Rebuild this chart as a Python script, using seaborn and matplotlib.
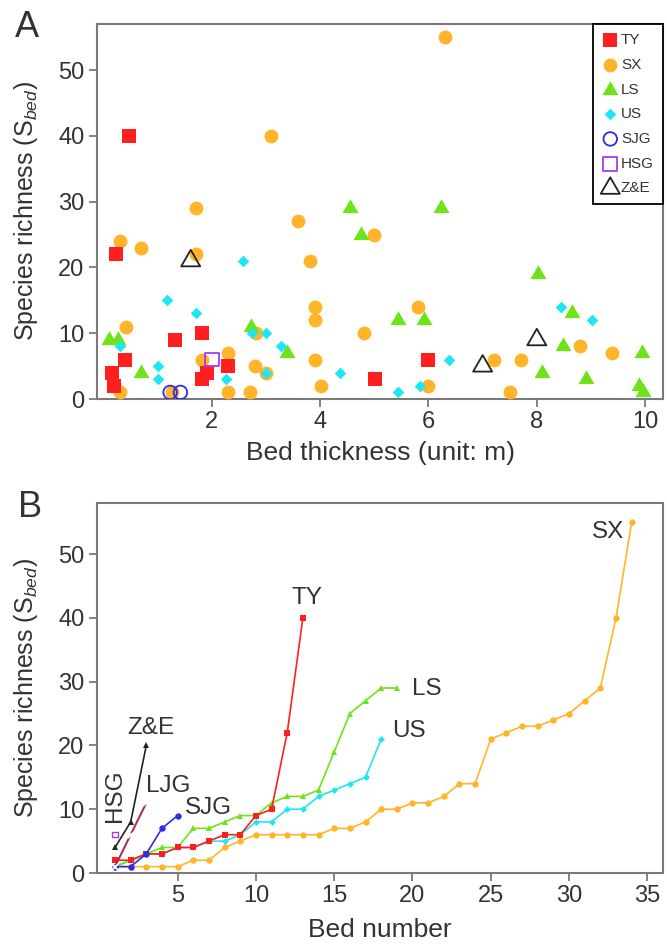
import matplotlib
matplotlib.use("Agg")
import matplotlib.pyplot as plt
from matplotlib.path import Path
import seaborn as sns

# ---- Panel A: bed thickness (m) vs. species richness of each bed ----
ty_thick = [0.47, 0.23, 0.40, 0.15, 0.20, 1.32, 1.81, 1.91, 1.81, 2.30, 5.01, 6.00]
ty_rich = [40, 22, 6, 4, 2, 9, 10, 4, 3, 5, 3, 6]

sx_thick = [3.10, 1.70, 0.30, 0.70, 1.70, 0.41, 0.30, 1.81, 2.30, 2.30, 2.80, 2.71,
            3.00, 1.26, 2.82, 6.31, 3.60, 3.81, 5.00, 3.90, 3.90, 4.81, 5.81, 3.90,
            4.01, 6.00, 7.21, 7.70, 7.50, 8.80, 9.39]
sx_rich = [40, 29, 24, 23, 22, 11, 1, 6, 7, 1, 5, 1,
           4, 1, 10, 55, 27, 21, 25, 14, 12, 10, 14, 6,
           2, 2, 6, 6, 1, 8, 7]

ls_thick = [0.10, 0.27, 0.69, 2.73, 3.38, 4.56, 4.76, 6.24, 5.44, 5.92, 8.03, 8.65,
            8.49, 8.10, 8.90, 9.95, 9.88, 9.96]
ls_rich = [9, 9, 4, 11, 7, 29, 25, 29, 12, 12, 19, 13, 8, 4, 3, 7, 2, 1]

us_thick = [0.31, 1.18, 1.70, 1.01, 1.01, 2.58, 2.26, 2.75, 3.00, 3.00, 3.27, 4.36,
            5.43, 5.85, 6.37, 8.44, 9.02]
us_rich = [8, 15, 13, 5, 3, 21, 3, 10, 10, 4, 8, 4, 1, 2, 6, 14, 12]

sjg_thick = [1.23, 1.42]
sjg_rich = [1, 1]

hsg_thick = [2.00]
hsg_rich = [6]

ze_thick = [1.61, 7.00, 8.00]
ze_rich = [21, 5, 9]

# ---- Panel B: species richness of beds ranked in ascending order ----
ty_bed = [2, 2, 3, 3, 4, 4, 5, 6, 6, 9, 10, 22, 40]
sx_bed = [1, 1, 1, 1, 1, 2, 2, 4, 5, 6, 6, 6, 6, 6, 7, 7, 8, 10, 10, 11, 11, 12,
          14, 14, 21, 22, 23, 23, 24, 25, 27, 29, 40, 55]
ls_bed = [1, 2, 3, 4, 4, 7, 7, 8, 9, 9, 11, 12, 12, 13, 19, 25, 27, 29, 29]
us_bed = [1, 2, 3, 3, 4, 4, 5, 5, 6, 8, 8, 10, 10, 12, 13, 14, 15, 21]
sjg_bed = [1, 1, 3, 7, 9]
ljg_bed = [1, 6, 11]
ze_bed = [4, 8, 20]
hsg_bed = [6]

C_TY = "#ff1f1f"
C_SX = "#ffb42a"
C_LS = "#6fe31a"
C_US = "#1fe6f4"
C_SJG = "#2d2de6"
C_HSG = "#a23bf2"
C_ZE = "#222222"
C_LJG = "#a3294d"
SPINE = "#7a7a7a"
TXT = "#333333"

sns.set_theme(style="ticks")
plt.rcParams["font.family"] = ["Liberation Sans", "DejaVu Sans"]
plt.rcParams["mathtext.fontset"] = "custom"
plt.rcParams["mathtext.rm"] = "Liberation Sans"
plt.rcParams["mathtext.it"] = "Liberation Sans:italic"

# equilateral triangle centred on its centroid
tri = Path([(-1.0, -0.57735), (1.0, -0.57735), (0.0, 1.1547), (-1.0, -0.57735)],
           [Path.MOVETO, Path.LINETO, Path.LINETO, Path.CLOSEPOLY])

fig = plt.figure(figsize=(6.67, 9.49), dpi=100)
W, H = 667.0, 949.0
axA = fig.add_axes([97 / W, 1 - 399 / H, 566 / W, 375 / H])
axB = fig.add_axes([97 / W, 1 - 873 / H, 566 / W, 370 / H])

# ---------------- Panel A ----------------
sns.scatterplot(x=sx_thick, y=sx_rich, ax=axA, color=C_SX, marker="o", s=100,
                linewidth=0, label="SX", zorder=3)
sns.scatterplot(x=ty_thick, y=ty_rich, ax=axA, color=C_TY, marker="s", s=92,
                linewidth=0, label="TY", zorder=4)
sns.scatterplot(x=ls_thick, y=ls_rich, ax=axA, color=C_LS, marker=tri, s=177,
                linewidth=0, label="LS", zorder=5)
sns.scatterplot(x=us_thick, y=us_rich, ax=axA, color=C_US, marker="D", s=35,
                linewidth=0, label="US", zorder=6)
sns.scatterplot(x=sjg_thick, y=sjg_rich, ax=axA, marker="o", s=95,
                facecolor="none", edgecolor=C_SJG, linewidth=1.3, label="SJG", zorder=7)
sns.scatterplot(x=hsg_thick, y=hsg_rich, ax=axA, marker="s", s=100,
                facecolor="none", edgecolor=C_HSG, linewidth=1.3, label="HSG", zorder=7)
sns.scatterplot(x=ze_thick, y=ze_rich, ax=axA, marker=tri, s=250,
                facecolor="none", edgecolor=C_ZE, linewidth=1.3, label="Z&E", zorder=7)

handles, labels = axA.get_legend_handles_labels()
order = ["TY", "SX", "LS", "US", "SJG", "HSG", "Z&E"]
hmap = dict(zip(labels, handles))
leg = axA.legend([hmap[k] for k in order], order, loc="upper right",
                 bbox_to_anchor=(1.0, 1.0), borderaxespad=0.0, fontsize=11,
                 frameon=True, fancybox=False, framealpha=1.0, edgecolor="black",
                 handlelength=1.0, handletextpad=0.2, borderpad=0.6,
                 labelspacing=0.7)
leg.get_frame().set_linewidth(1.3)
for t in leg.get_texts():
    t.set_color(TXT)

axA.set_xlim(-0.12, 10.33)
axA.set_ylim(0, 57)
axA.set_xticks([2, 4, 6, 8, 10])
axA.set_yticks([0, 10, 20, 30, 40, 50])
axA.set_xlabel("Bed thickness (unit: m)", fontsize=19, color=TXT)
axA.set_ylabel(r"Species richness (S$_{bed}$)", fontsize=18, color=TXT)
axA.xaxis.set_label_coords(0.5, -0.112)
axA.yaxis.set_label_coords(-0.1, 0.5)
fig.text(15 / W, 1 - 10 / H, "A", fontsize=26, color=TXT, ha="left", va="top")

# ---------------- Panel B ----------------
line_kw = dict(linewidth=1.2, markeredgewidth=0, errorbar=None, legend=False)


def bed_numbers(vals):
    return list(range(1, len(vals) + 1))


sns.lineplot(x=bed_numbers(sx_bed), y=sx_bed, ax=axB, color=C_SX, marker="o",
             markersize=4.6, zorder=3, **line_kw)
sns.lineplot(x=bed_numbers(us_bed), y=us_bed, ax=axB, color=C_US, marker="D",
             markersize=3.5, zorder=4, **line_kw)
sns.lineplot(x=bed_numbers(ls_bed), y=ls_bed, ax=axB, color=C_LS, marker="^",
             markersize=5.0, zorder=4, **line_kw)
sns.lineplot(x=bed_numbers(ty_bed), y=ty_bed, ax=axB, color=C_TY, marker="s",
             markersize=4.3, zorder=5, **line_kw)
sns.lineplot(x=bed_numbers(sjg_bed), y=sjg_bed, ax=axB, color=C_SJG, marker="o",
             markersize=4.6, zorder=5, **line_kw)
sns.lineplot(x=bed_numbers(ljg_bed), y=ljg_bed, ax=axB, color=C_LJG, marker="x",
             markersize=4.5, zorder=6, linewidth=1.4, markeredgewidth=1.3,
             errorbar=None, legend=False)
sns.lineplot(x=bed_numbers(ze_bed), y=ze_bed, ax=axB, color=C_ZE, marker="^",
             markersize=5.0, zorder=5, **line_kw)
sns.scatterplot(x=bed_numbers(hsg_bed), y=hsg_bed, ax=axB, marker="s", s=14,
                facecolor="none", edgecolor=C_HSG, linewidth=1.0, zorder=6, legend=False)

lab_kw = dict(fontsize=17.5, color=TXT)
axB.text(0.99, 12.1, "HSG", rotation=90, ha="center", va="center", **lab_kw)
axB.text(3.26, 22.7, "Z&E", ha="center", va="center", **lab_kw)
axB.text(4.40, 13.6, "LJG", ha="center", va="center", **lab_kw)
axB.text(6.96, 10.2, "SJG", ha="center", va="center", **lab_kw)
axB.text(13.25, 43.1, "TY", ha="center", va="center", **lab_kw)
axB.text(20.9, 28.9, "LS", ha="center", va="center", **lab_kw)
axB.text(19.8, 22.3, "US", ha="center", va="center", **lab_kw)
axB.text(32.5, 53.5, "SX", ha="center", va="center", **lab_kw)

axB.set_xlim(-0.15, 36.0)
axB.set_ylim(0, 58)
axB.set_xticks([5, 10, 15, 20, 25, 30, 35])
axB.set_yticks([0, 10, 20, 30, 40, 50])
axB.set_xlabel("Bed number", fontsize=19, color=TXT)
axB.set_ylabel(r"Species richness (S$_{bed}$)", fontsize=18, color=TXT)
axB.xaxis.set_label_coords(0.5, -0.122)
axB.yaxis.set_label_coords(-0.1, 0.5)
fig.text(18 / W, 1 - 490 / H, "B", fontsize=26, color=TXT, ha="left", va="top")

for ax in (axA, axB):
    for sp in ax.spines.values():
        sp.set_visible(True)
        sp.set_color(SPINE)
        sp.set_linewidth(1.5)
    ax.tick_params(axis="both", direction="out", length=6, width=1.3,
                   color=SPINE, labelsize=17, labelcolor=TXT, pad=3)
    ax.tick_params(top=False, right=False)
    ax.grid(False)

fig.savefig("out.png", dpi=100, facecolor="white")
